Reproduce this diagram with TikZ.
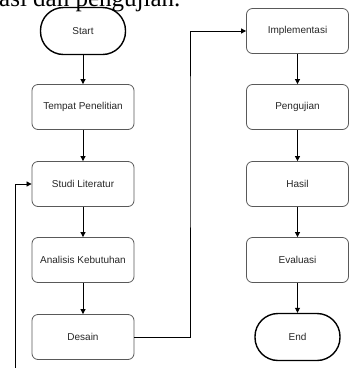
\documentclass[tikz,border=0pt]{standalone}
\usepackage{fontspec}
\setmainfont{Liberation Serif}
\setsansfont{Liberation Sans}
\usetikzlibrary{arrows.meta}
\begin{document}
\begin{tikzpicture}[x=1pt,y=-1pt,>={Triangle[length=5pt,width=5pt]},
	proses/.style={draw=black!65,line width=0.8pt,rounded corners=6pt,minimum width=102pt,minimum height=45pt,inner sep=0pt,font=\sffamily\fontsize{10}{12}\selectfont,text=black!85},
	terminal/.style={draw=black,line width=1.4pt,rounded corners=23pt,minimum width=85pt,minimum height=47pt,inner sep=0pt,font=\sffamily\fontsize{10}{12}\selectfont,text=black!85},
	panah/.style={->,line width=0.8pt}]
	\useasboundingbox (0,0) rectangle (349,368);
	\clip (0,0) rectangle (349,368);
	\node[anchor=base west,inner sep=0pt,font=\fontsize{25}{28}\selectfont] (teks) at (-1,6.5) {asi dan pengujian.};
	% kolom kiri
	\node[terminal] (start) at (83,31) {Start};
	\node[proses] (tempat) at (83,107) {Tempat Penelitian};
	\node[proses] (studi) at (83,184) {Studi Literatur};
	\node[proses] (analisis) at (83,260) {Analisis Kebutuhan};
	\node[proses] (desain) at (83,337) {Desain};
	% kolom kanan
	\node[proses] (impl) at (297.5,31) {Implementasi};
	\node[proses] (uji) at (297.5,107) {Pengujian};
	\node[proses] (hasil) at (297.5,184) {Hasil};
	\node[proses] (eval) at (297.5,260) {Evaluasi};
	\node[terminal] (end) at (297.5,337) {End};
	\coordinate (balik) at (15,380);
	% panah
	\draw[panah] (start)--(tempat);
	\draw[panah] (tempat)--(studi);
	\draw[panah] (studi)--(analisis);
	\draw[panah] (analisis)--(desain);
	\draw[panah] (desain.east)-|(190,120)|-(impl.west);
	\draw[panah] (impl)--(uji);
	\draw[panah] (uji)--(hasil);
	\draw[panah] (hasil)--(eval);
	\draw[panah] (eval)--(end);
	\draw[panah] (balik)|-(studi.west);
\end{tikzpicture}
\end{document}
